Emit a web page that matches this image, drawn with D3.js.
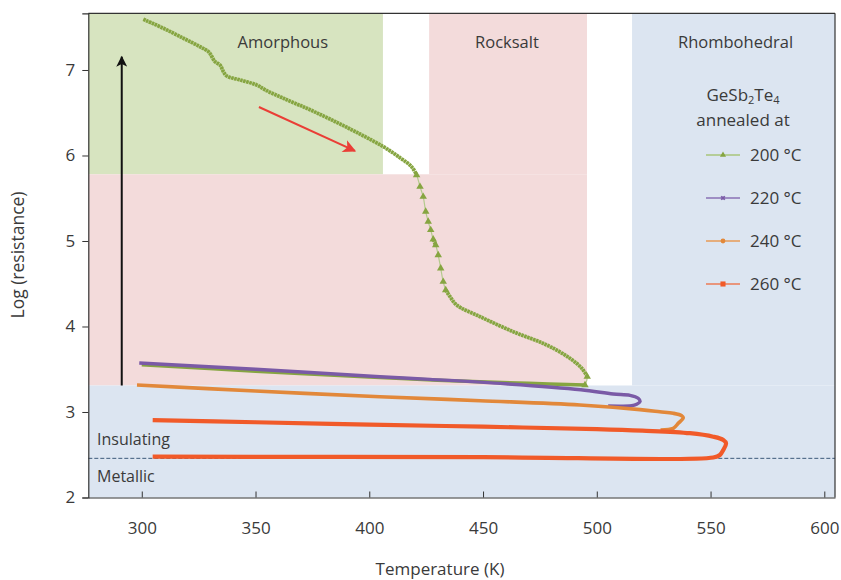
<!DOCTYPE html>
<html><head><meta charset="utf-8">
<script src="https://cdn.jsdelivr.net/npm/d3@7"></script>
<style>
body{margin:0;background:#fff;}
text{font-family:"Open Sans","Noto Sans",sans-serif;fill:#3a3a3a;}
</style></head>
<body><svg id="c" width="841" height="580"></svg>
<script>
// ---- data ----
const tempTicks = [300, 350, 400, 450, 500, 550, 600];
const logTicks = [2, 3, 4, 5, 6, 7];
const xDomain = [276.5, 604.7];
const yDomain = [2, 7.663];

// phase regions: [T0, T1, v0, v1] (null = plot edge)
const amorphousRegion = [null, 406, 5.78, null];
const rocksaltRegions = [[426.3, 495.7, 5.78, null], [null, 495.7, 3.31, 5.78]];
const rhomboRegions = [[515.5, null, 3.31, null], [null, null, null, 3.31]];
const regionLabels = [["Amorphous", 362], ["Rocksalt", 460.5], ["Rhombohedral", 561]];

// GeSb2Te4 annealed at 200 °C (heating)
const series200 = [[300.7,7.593],[309.5,7.488],[318.3,7.371],[325.6,7.272],[329.3,7.214],[330.8,7.156],[332.2,7.097],[334.4,7.058],[335.9,6.98],[337.4,6.93],[343.2,6.883],[350.5,6.825],[354.9,6.758],[362.2,6.669],[372.5,6.552],[384.2,6.407],[395.9,6.251],[406.2,6.103],[413.5,5.974],[418.6,5.869],[420.8,5.772],[422.3,5.635],[423.7,5.518],[424.8,5.343],[425.9,5.226],[427.0,5.129],[428.1,5.02],[429.2,4.953],[430.3,4.836],[431.4,4.681],[432.5,4.524],[433.6,4.427],[435.5,4.349],[438.4,4.251],[448.7,4.115],[463.3,3.939],[478.0,3.784],[488.2,3.628],[493.4,3.511],[495.8,3.413],[494.8,3.316]];
// 200 °C cooling back
const series200back = [[494.8,3.316],[470,3.335],[430,3.372],[400,3.41],[350,3.478],[300,3.553]];
const series220 = [[298.9,3.573],[350,3.5],[404.7,3.413],[426.7,3.382],[460,3.33],[493,3.26],[507.2,3.211],[514.6,3.195],[518.2,3.16],[519.0,3.12],[517.5,3.09],[515.3,3.074],[505,3.07]];
const series240 = [[297.9,3.316],[350,3.245],[404.7,3.179],[448.7,3.132],[492.6,3.082],[519,3.028],[527.7,3.003],[533.6,2.985],[537.3,2.957],[538,2.933],[535.8,2.868],[533.6,2.809],[528,2.79]];
const series260 = [[304.8,2.906],[350,2.88],[400,2.852],[450,2.828],[500,2.8],[520,2.782],[540.9,2.752],[551.2,2.711],[555.6,2.673],[556.8,2.634],[555.6,2.556],[554.1,2.497],[551.2,2.468],[450,2.472],[304.8,2.477]];
const metalInsulatorLevel = 2.458;
const blackArrow = [[291.2, 3.31], [291.2, 7.155]];
const redArrow = [[351.5, 6.567], [393.7, 6.053]];
const legendItems = ["200 °C", "220 °C", "240 °C", "260 °C"];

// ---- drawing ----
const svg = d3.select("#c");
const L = 88.3, R = 835, T = 13.3, B = 497.5;
const x = d3.scaleLinear().domain(xDomain).range([L, R]);
const y = d3.scaleLinear().domain(yDomain).range([B, T]);

function rect(r, fill) {
  const x0 = r[0] === null ? L : x(r[0]);
  const x1 = r[1] === null ? R : x(r[1]);
  const y0 = r[2] === null ? B : y(r[2]);
  const y1 = r[3] === null ? T : y(r[3]);
  svg.append("rect").attr("x", x0).attr("y", y1).attr("width", x1 - x0).attr("height", y0 - y1).attr("fill", fill);
}
const cGreen = "#d7e4c0", cPink = "#f3dbdb", cBlue = "#dce5f1";
rect(amorphousRegion, cGreen);
rocksaltRegions.forEach(r => rect(r, cPink));
rhomboRegions.forEach(r => rect(r, cBlue));

regionLabels.forEach(([t, T0]) => {
  svg.append("text").attr("x", x(T0)).attr("y", 48).attr("text-anchor", "middle").attr("font-size", 16.5).text(t);
});
svg.append("text").attr("x", 97).attr("y", 445).attr("font-size", 16).text("Insulating");
svg.append("text").attr("x", 97).attr("y", 482).attr("font-size", 16).text("Metallic");

// dashed M-I line
svg.append("line").attr("x1", L).attr("x2", R).attr("y1", y(metalInsulatorLevel)).attr("y2", y(metalInsulatorLevel))
  .attr("stroke", "#3d5a7a").attr("stroke-width", 1).attr("stroke-dasharray", "4,2");

const line = d3.line().x(d => x(d[0])).y(d => y(d[1])).curve(d3.curveCatmullRom.alpha(0.5));

// 200 °C: thin base line, thick runs where not steep, triangles where steep
const gDark = "#86a541", gLight = "#b3ca8c";
svg.append("path").attr("d", line(series200back)).attr("fill", "none").attr("stroke", gDark).attr("stroke-width", 3.6);
svg.append("path").attr("d", line(series200)).attr("fill", "none").attr("stroke", gLight).attr("stroke-width", 1.2);
let runs = [], cur = [series200[0]], steepPts = new Set();
for (let i = 1; i < series200.length; i++) {
  const a = series200[i - 1], b = series200[i];
  const dx = Math.abs(x(b[0]) - x(a[0])), dy = Math.abs(y(b[1]) - y(a[1]));
  if (dy / Math.max(dx, 0.01) < 3) { cur.push(b); }
  else { steepPts.add(i - 1); steepPts.add(i); if (cur.length > 1) runs.push(cur); cur = [b]; }
}
if (cur.length > 1) runs.push(cur);
runs.forEach(r => svg.append("path").attr("d", line(r)).attr("fill", "none").attr("stroke", gDark).attr("stroke-width", 3.8).attr("stroke-dasharray", "2.5,0.6"));
const tri = d3.symbol().type(d3.symbolTriangle).size(24);
svg.append("g").selectAll("path").data(series200.filter((d, i) => steepPts.has(i))).join("path")
  .attr("d", tri).attr("fill", gDark)
  .attr("transform", d => `translate(${x(d[0])},${y(d[1])})`);

// 220 °C
svg.append("path").attr("d", line(series220)).attr("fill", "none").attr("stroke", "#7a5aa6").attr("stroke-width", 3.4);
// 240 °C
svg.append("path").attr("d", line(series240)).attr("fill", "none").attr("stroke", "#e2883a").attr("stroke-width", 3.6);
// 260 °C
svg.append("path").attr("d", line(series260)).attr("fill", "none").attr("stroke", "#f15a29").attr("stroke-width", 4.2);

// arrows
const defs = svg.append("defs");
function marker(id, color, w, h) {
  defs.append("marker").attr("id", id).attr("viewBox", "0 0 10 10").attr("refX", 9).attr("refY", 5)
    .attr("markerUnits", "userSpaceOnUse").attr("markerWidth", w).attr("markerHeight", h).attr("orient", "auto")
    .append("path").attr("d", "M0,0 L10,5 L0,10 L2.5,5 Z").attr("fill", color);
}
marker("ab", "#111", 14, 11);
marker("ar", "#ea3e36", 17, 13);
svg.append("line").attr("x1", x(blackArrow[0][0])).attr("y1", y(blackArrow[0][1]))
  .attr("x2", x(blackArrow[1][0])).attr("y2", y(blackArrow[1][1]))
  .attr("stroke", "#111").attr("stroke-width", 2).attr("marker-end", "url(#ab)");
svg.append("line").attr("x1", x(redArrow[0][0])).attr("y1", y(redArrow[0][1]))
  .attr("x2", x(redArrow[1][0])).attr("y2", y(redArrow[1][1]))
  .attr("stroke", "#ea3e36").attr("stroke-width", 2).attr("marker-end", "url(#ar)");

// frame & axes
svg.append("line").attr("x1", L).attr("x2", R).attr("y1", T).attr("y2", T).attr("stroke", "#333").attr("stroke-width", 1.2);
svg.append("line").attr("x1", R).attr("x2", R).attr("y1", T).attr("y2", B).attr("stroke", "#333").attr("stroke-width", 1.2);

const xAxis = svg.append("g").attr("transform", `translate(0,${B})`)
  .call(d3.axisBottom(x).tickValues(tempTicks).tickFormat(d3.format("d")).tickSizeInner(-6).tickSizeOuter(0).tickPadding(24));
const yAxis = svg.append("g").attr("transform", `translate(${L},0)`)
  .call(d3.axisLeft(y).tickValues(logTicks).tickFormat(d3.format("d")).tickSize(6).tickPadding(7));
[xAxis, yAxis].forEach(g => {
  g.select(".domain").attr("stroke", "#333").attr("stroke-width", 1.2);
  g.selectAll(".tick line").attr("stroke", "#333");
  g.selectAll(".tick text").attr("font-size", 17).attr("fill", "#3a3a3a").attr("font-family", "'Open Sans','Noto Sans',sans-serif");
});

svg.append("text").attr("x", 440).attr("y", 575).attr("text-anchor", "middle").attr("font-size", 17).text("Temperature (K)");
svg.append("text").attr("transform", "translate(24,255) rotate(-90)").attr("text-anchor", "middle").attr("font-size", 17.5).text("Log (resistance)");

// legend
const lt = svg.append("text").attr("x", 743).attr("y", 101).attr("text-anchor", "middle").attr("font-size", 17);
lt.append("tspan").text("GeSb");
lt.append("tspan").attr("font-size", 11).attr("dy", 3).text("2");
lt.append("tspan").attr("dy", -3).text("Te");
lt.append("tspan").attr("font-size", 11).attr("dy", 3).text("4");
svg.append("text").attr("x", 743).attr("y", 126).attr("text-anchor", "middle").attr("font-size", 17).text("annealed at");

const legendLine = ["#a9c47a", "#8a70b4", "#e99a55", "#ec7a55"];
const legendMark = ["#86a541", "#7a5aa6", "#e2883a", "#f15a29"];
const legendY = d3.scalePoint().domain(legendItems).range([155, 284]);
legendItems.forEach((lab, i) => {
  const yy = legendY(lab);
  svg.append("line").attr("x1", 706).attr("x2", 740).attr("y1", yy).attr("y2", yy).attr("stroke", legendLine[i]).attr("stroke-width", 1.3);
  const types = [d3.symbolTriangle, d3.symbolCross, d3.symbolCircle, d3.symbolSquare];
  const sizes = [16, 14, 18, 26];
  svg.append("path").attr("d", d3.symbol().type(types[i]).size(sizes[i])())
    .attr("transform", `translate(723,${yy})` + (i === 1 ? " rotate(45)" : ""))
    .attr("fill", legendMark[i]);
  svg.append("text").attr("x", 750).attr("y", yy + 6).attr("font-size", 17).text(lab);
});
</script></body></html>
